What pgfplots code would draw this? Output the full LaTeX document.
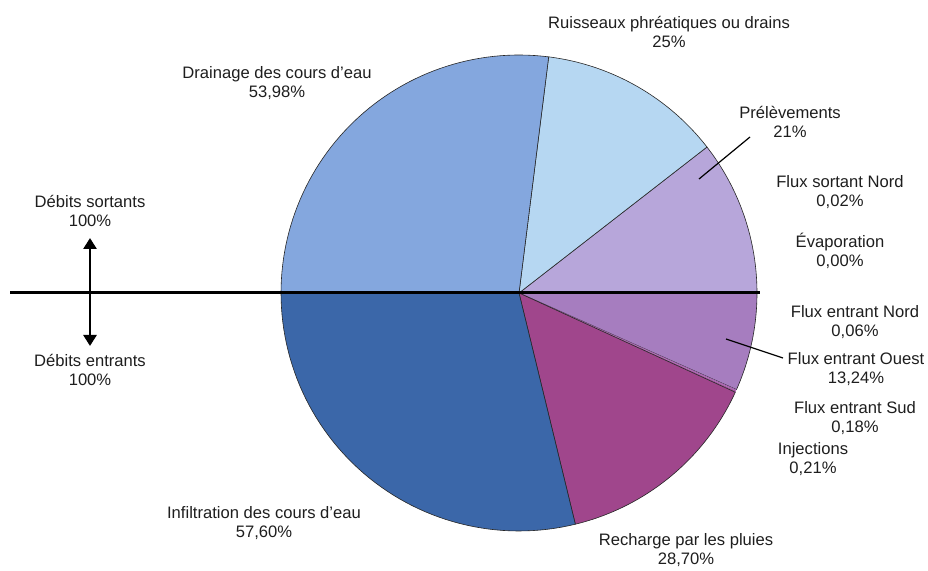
\documentclass[border=0pt]{standalone}
\usepackage{pgfplots}
\pgfplotsset{compat=1.18}
\usepackage{fontspec}
\setmainfont{Liberation Sans}
\usetikzlibrary{arrows.meta}
\definecolor{cDrain}{HTML}{84A7DE}
\definecolor{cRuis}{HTML}{B6D7F2}
\definecolor{cPre}{HTML}{B7A6DA}
\definecolor{cOuest}{HTML}{A67DBF}
\definecolor{cSud}{HTML}{A565B0}
\definecolor{cInj}{HTML}{A2559F}
\definecolor{cRech}{HTML}{A0468C}
\definecolor{cInf}{HTML}{3B67A9}
\definecolor{txt}{HTML}{1E1E1E}
\begin{document}
\begin{tikzpicture}
\begin{axis}[
  x=1pt, y=1pt,
  xmin=0, xmax=928, ymin=0, ymax=570,
  hide axis, clip=false,
  wedge/.style={draw=black!85, line width=0.6pt, samples=60, variable=\t},
]
\coordinate (bbSW) at (axis cs:0,0);
\coordinate (bbNE) at (axis cs:928,570);
% centre (519,277), rayon 238 ; angles = pourcentage x 1.8 degres
% Debits sortants (moitie haute)
\addplot[wedge, fill=cPre,  domain={1.8*0}:{1.8*0.02}]                 ({519+238*cos(t)},{277+238*sin(t)}) -- (axis cs:519,277) -- cycle; % Flux sortant Nord 0,02
\addplot[wedge, fill=cPre,  domain={1.8*0.02}:{1.8*(0.02+21)}]          ({519+238*cos(t)},{277+238*sin(t)}) -- (axis cs:519,277) -- cycle; % Prelevements 21
\addplot[wedge, fill=cRuis, domain={1.8*(0.02+21)}:{1.8*(0.02+21+25)}]  ({519+238*cos(t)},{277+238*sin(t)}) -- (axis cs:519,277) -- cycle; % Ruisseaux 25
\addplot[wedge, fill=cDrain,domain={1.8*(0.02+21+25)}:{1.8*(0.02+21+25+53.98)}] ({519+238*cos(t)},{277+238*sin(t)}) -- (axis cs:519,277) -- cycle; % Drainage 53,98
% Debits entrants (moitie basse)
\addplot[wedge, fill=cOuest, domain={-1.8*0.06}:{0}]                              ({519+238*cos(t)},{277+238*sin(t)}) -- (axis cs:519,277) -- cycle; % Flux entrant Nord 0,06
\addplot[wedge, fill=cOuest, domain={-1.8*(0.06+13.24)}:{-1.8*0.06}]              ({519+238*cos(t)},{277+238*sin(t)}) -- (axis cs:519,277) -- cycle; % Ouest 13,24
\addplot[wedge, draw=none, fill=cSud,   domain={-1.8*(0.06+13.24+0.18)}:{-1.8*(0.06+13.24)}] ({519+238*cos(t)},{277+238*sin(t)}) -- (axis cs:519,277) -- cycle; % Sud 0,18
\addplot[wedge, draw=none, fill=cInj,   domain={-1.8*(0.06+13.24+0.18+0.21)}:{-1.8*(0.06+13.24+0.18)}] ({519+238*cos(t)},{277+238*sin(t)}) -- (axis cs:519,277) -- cycle; % Injections 0,21
\addplot[wedge, fill=cRech,  domain={-1.8*(0.06+13.24+0.18+0.21+28.70)}:{-1.8*(0.06+13.24+0.18+0.21)}] ({519+238*cos(t)},{277+238*sin(t)}) -- (axis cs:519,277) -- cycle; % Recharge 28,70
\addplot[wedge, fill=cInf,   domain={-180}:{-1.8*(0.06+13.24+0.18+0.21+28.70)}] ({519+238*cos(t)},{277+238*sin(t)}) -- (axis cs:519,277) -- cycle; % Infiltration 57,60

% ligne horizontale
\draw[black, line width=3pt] (axis cs:10,277) -- (axis cs:760,277);
% fleche
\draw[black, line width=2.6pt, {Triangle[length=11pt,width=13pt]}-{Triangle[length=11pt,width=13pt]}] (axis cs:90,332) -- (axis cs:90,224);
% lignes de rappel
\draw[black, line width=1.2pt] (axis cs:750,433) -- (axis cs:699,391);
\draw[black, line width=1.2pt] (axis cs:726,231) -- (axis cs:783,212);

\tikzset{lab/.style={align=center, text=txt, font=\fontsize{16.6}{19}\selectfont, inner sep=0pt}}
\node[lab] at (axis cs:90,359) {Débits sortants\\100\%};
\node[lab] at (axis cs:90,200) {Débits entrants\\100\%};
\node[lab] at (axis cs:277,487) {Drainage des cours d’eau\\53,98\%};
\node[lab] at (axis cs:669,538) {Ruisseaux phréatiques ou drains\\25\%};
\node[lab] at (axis cs:790,448) {Prélèvements\\21\%};
\node[lab] at (axis cs:840,378) {Flux sortant Nord\\0,02\%};
\node[lab] at (axis cs:840,319) {Évaporation\\0,00\%};
\node[lab] at (axis cs:855,248) {Flux entrant Nord\\0,06\%};
\node[lab] at (axis cs:856,201) {Flux entrant Ouest\\13,24\%};
\node[lab] at (axis cs:855,152) {Flux entrant Sud\\0,18\%};
\node[lab] at (axis cs:813,111) {Injections\\0,21\%};
\node[lab] at (axis cs:264,47) {Infiltration des cours d’eau\\57,60\%};
\node[lab] at (axis cs:686,20) {Recharge par les pluies\\28,70\%};
\end{axis}
\pgfresetboundingbox
\path (bbSW) rectangle (bbNE);
\end{tikzpicture}
\end{document}
